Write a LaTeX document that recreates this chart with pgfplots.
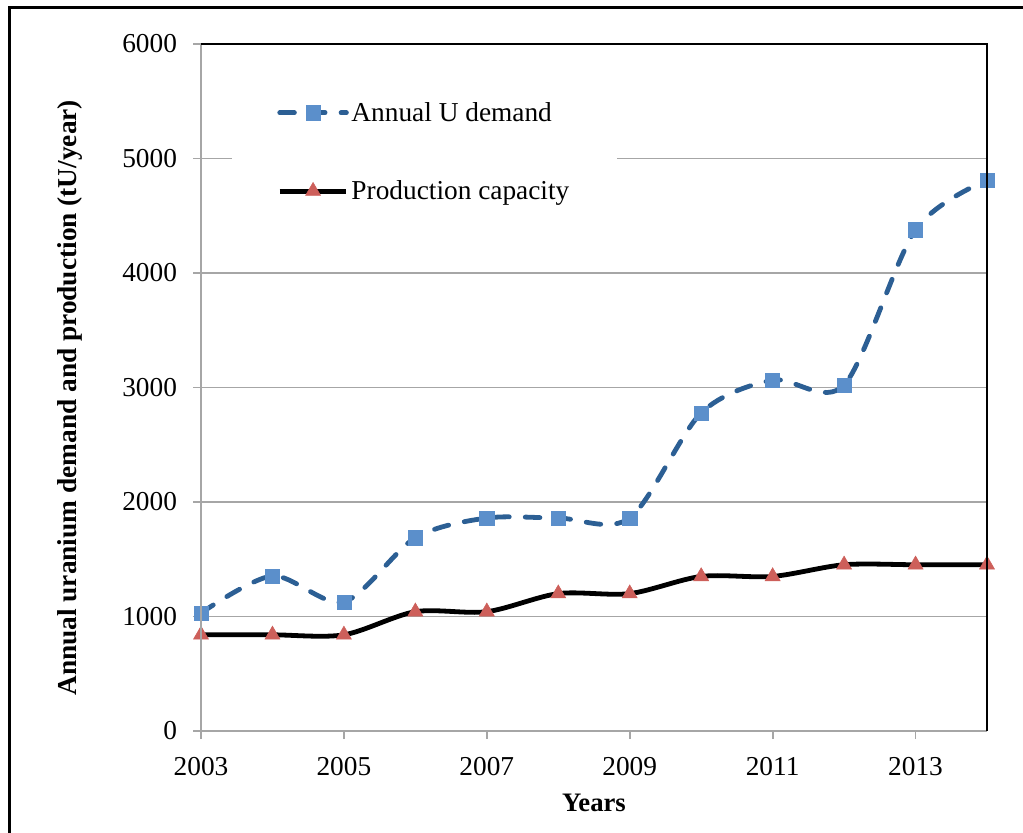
\documentclass[border=0pt]{standalone}
\usepackage{pgfplots}
\pgfplotsset{compat=1.18}
\usepackage{fontspec}
\setmainfont{Liberation Serif}
\definecolor{dblue}{HTML}{2C5F94}
\definecolor{lblue}{HTML}{5B8FCB}
\definecolor{tred}{HTML}{CD5F5A}
\definecolor{gridg}{HTML}{A6A6A6}
\begin{document}
\begin{tikzpicture}
\useasboundingbox (0,0) rectangle (767.25pt,624pt);
\draw[line width=2.2pt] (7.1pt,618.4pt) rectangle (800pt,-20pt);
\begin{axis}[
  at={(150.75pt,75.75pt)}, anchor=south west,
  scale only axis, width=589.5pt, height=515.25pt,
  xmin=2003, xmax=2014, ymin=0, ymax=6000,
  xtick={2003,2005,...,2013}, ytick={0,1000,...,6000},
  xtick pos=left, ytick pos=left,
  axis line style={draw=none},
  ymajorgrids, major grid style={gridg, line width=1.3pt},
  tick style={gridg, line width=1.3pt}, tick align=outside, major tick length=6pt,
  tick label style={font=\fontsize{20.5}{24}\selectfont},
  yticklabel style={xshift=-8.5pt},
  xticklabel style={yshift=-10pt},
  /pgf/number format/assume math mode=true, /pgf/number format/1000 sep={},
  clip=false,
  xlabel={Years}, ylabel={Annual uranium demand and production (tU/year)},
  xlabel style={at={(axis description cs:0.5,-0.105)}, anchor=center, font=\fontsize{20}{24}\selectfont\bfseries},
  ylabel style={at={(axis description cs:-0.167,0.485)}, anchor=center, font=\fontsize{20.5}{24}\selectfont\bfseries},
  legend style={at={(axis cs:2006.13,5057)}, anchor=center, draw=none, fill=white,
    inner xsep=34pt, inner ysep=12pt, row sep=39pt, font=\fontsize{20.5}{24}\selectfont,
    cells={anchor=west}},
  legend image code/.code={\draw[#1, mark repeat=2, mark phase=2] plot coordinates {(0pt,0pt) (25pt,0pt) (50pt,0pt)};},
  after end axis/.code={
    \draw[gridg, line width=1.5pt] (rel axis cs:0,1) -- (rel axis cs:0,0) -- (rel axis cs:1,0);
    \draw[black, line width=1.6pt] (rel axis cs:0,1) -- (rel axis cs:1,1) -- (rel axis cs:1,0);
  },
]
\addplot[dblue, line width=3.6pt, dash pattern=on 11pt off 12pt, line cap=round, smooth,
  mark=square*, mark size=5.3pt, mark options={solid, fill=lblue, draw=lblue, line width=0.4pt}]
  coordinates {(2003,1030) (2004,1354) (2005,1128) (2006,1688) (2007,1860) (2008,1860) (2009,1860) (2010,2778) (2011,3065) (2012,3022) (2013,4378) (2014,4810)};
\addlegendentry{Annual U demand}
\addplot[black, line width=3.6pt, smooth,
  mark=triangle*, mark size=6.5pt, mark options={fill=tred, draw=tred, line width=0.4pt}]
  coordinates {(2003,840) (2004,840) (2005,840) (2006,1042) (2007,1042) (2008,1200) (2009,1200) (2010,1350) (2011,1350) (2012,1452) (2013,1452) (2014,1452)};
\addlegendentry{Production capacity}
\end{axis}
\end{tikzpicture}
\end{document}
